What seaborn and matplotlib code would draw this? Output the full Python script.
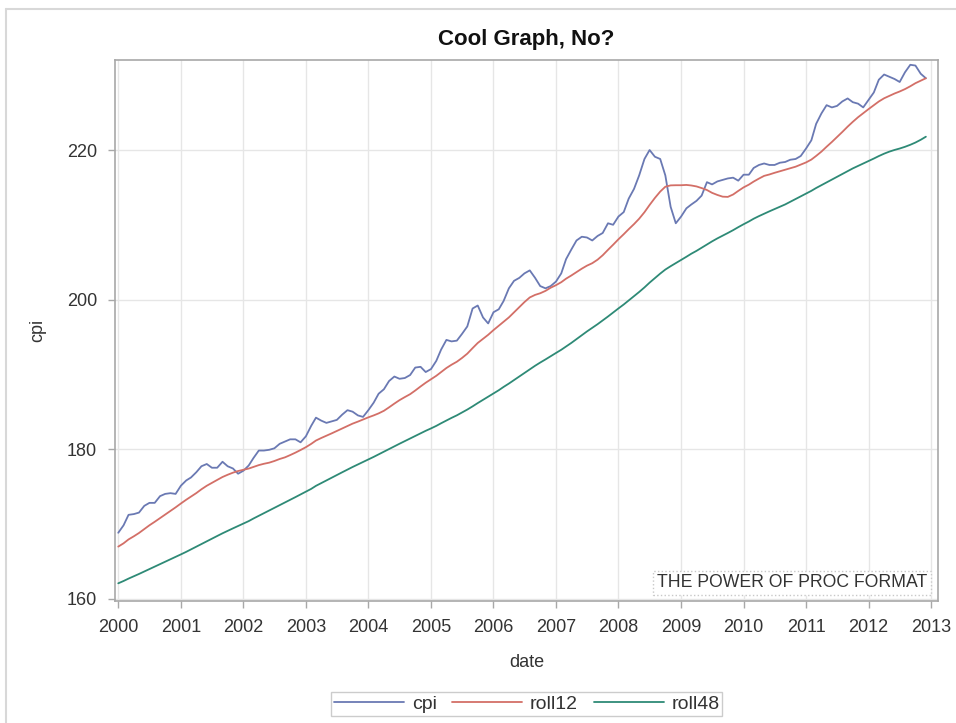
import pandas as pd
import matplotlib.pyplot as plt
import matplotlib.dates as mdates
from matplotlib.lines import Line2D
import seaborn as sns

# monthly values, Jan 2000 - Dec 2012
cpi = [
    168.8, 169.8, 171.2, 171.3, 171.5, 172.4, 172.8, 172.8, 173.7, 174.0, 174.1, 174.0,
    175.1, 175.8, 176.2, 176.9, 177.7, 178.0, 177.5, 177.5, 178.3, 177.7, 177.4, 176.7,
    177.1, 177.8, 178.8, 179.8, 179.8, 179.9, 180.1, 180.7, 181.0, 181.3, 181.3, 180.9,
    181.7, 183.1, 184.2, 183.8, 183.5, 183.7, 183.9, 184.6, 185.2, 185.0, 184.5, 184.3,
    185.2, 186.2, 187.4, 188.0, 189.1, 189.7, 189.4, 189.5, 189.9, 190.9, 191.0, 190.3,
    190.7, 191.8, 193.3, 194.6, 194.4, 194.5, 195.4, 196.4, 198.8, 199.2, 197.6, 196.8,
    198.3, 198.7, 199.8, 201.5, 202.5, 202.9, 203.5, 203.9, 202.9, 201.8, 201.5, 201.8,
    202.4, 203.5, 205.4, 206.7, 207.9, 208.4, 208.3, 207.9, 208.5, 208.9, 210.2, 210.0,
    211.1, 211.7, 213.5, 214.8, 216.6, 218.8, 220.0, 219.1, 218.8, 216.6, 212.4, 210.2,
    211.1, 212.2, 212.7, 213.2, 213.9, 215.7, 215.4, 215.8, 216.0, 216.2, 216.3, 215.9,
    216.7, 216.7, 217.6, 218.0, 218.2, 218.0, 218.0, 218.3, 218.4, 218.7, 218.8, 219.2,
    220.2, 221.3, 223.5, 224.9, 226.0, 225.7, 225.9, 226.5, 226.9, 226.4, 226.2, 225.7,
    226.7, 227.7, 229.4, 230.1, 229.8, 229.5, 229.1, 230.4, 231.4, 231.3, 230.2, 229.6,
]
roll12 = [
    166.95, 167.39, 167.91, 168.33, 168.77, 169.29, 169.80, 170.27, 170.76, 171.24, 171.72, 172.20,
    172.72, 173.22, 173.64, 174.11, 174.62, 175.09, 175.48, 175.87, 176.26, 176.56, 176.84, 177.06,
    177.23, 177.39, 177.61, 177.85, 178.03, 178.18, 178.40, 178.67, 178.89, 179.19, 179.52, 179.87,
    180.25, 180.69, 181.14, 181.48, 181.78, 182.10, 182.42, 182.74, 183.09, 183.40, 183.67, 183.95,
    184.24, 184.50, 184.77, 185.12, 185.58, 186.08, 186.54, 186.95, 187.34, 187.83, 188.37, 188.87,
    189.33, 189.80, 190.29, 190.84, 191.28, 191.68, 192.18, 192.76, 193.50, 194.19, 194.74, 195.28,
    195.91, 196.49, 197.03, 197.61, 198.28, 198.98, 199.66, 200.28, 200.62, 200.84, 201.16, 201.58,
    201.92, 202.32, 202.79, 203.22, 203.67, 204.13, 204.53, 204.86, 205.33, 205.92, 206.65, 207.33,
    208.06, 208.74, 209.41, 210.09, 210.81, 211.68, 212.65, 213.59, 214.44, 215.09, 215.27, 215.29,
    215.29, 215.33, 215.26, 215.13, 214.91, 214.65, 214.27, 213.99, 213.76, 213.73, 214.05, 214.53,
    215.00, 215.37, 215.78, 216.18, 216.54, 216.73, 216.95, 217.16, 217.36, 217.56, 217.77, 218.05,
    218.34, 218.72, 219.21, 219.79, 220.44, 221.08, 221.74, 222.42, 223.13, 223.77, 224.39, 224.93,
    225.47, 226.00, 226.49, 226.92, 227.24, 227.56, 227.83, 228.15, 228.53, 228.94, 229.27, 229.60,
]
roll48 = [
    162.04, 162.35, 162.67, 162.98, 163.29, 163.62, 163.95, 164.27, 164.61, 164.93, 165.25, 165.58,
    165.91, 166.25, 166.58, 166.93, 167.30, 167.67, 168.02, 168.37, 168.73, 169.06, 169.39, 169.71,
    170.03, 170.36, 170.71, 171.07, 171.42, 171.78, 172.13, 172.49, 172.85, 173.21, 173.57, 173.93,
    174.29, 174.67, 175.08, 175.44, 175.80, 176.17, 176.53, 176.89, 177.25, 177.60, 177.94, 178.27,
    178.61, 178.95, 179.29, 179.64, 180.00, 180.36, 180.71, 181.06, 181.40, 181.75, 182.10, 182.44,
    182.76, 183.10, 183.45, 183.82, 184.17, 184.51, 184.89, 185.28, 185.71, 186.15, 186.58, 186.99,
    187.43, 187.87, 188.31, 188.76, 189.23, 189.71, 190.20, 190.68, 191.14, 191.57, 191.99, 192.42,
    192.85, 193.28, 193.72, 194.20, 194.70, 195.22, 195.73, 196.21, 196.70, 197.20, 197.73, 198.27,
    198.81, 199.34, 199.88, 200.44, 201.01, 201.62, 202.26, 202.87, 203.47, 204.01, 204.46, 204.87,
    205.30, 205.72, 206.12, 206.51, 206.92, 207.36, 207.78, 208.18, 208.54, 208.90, 209.28, 209.68,
    210.07, 210.44, 210.81, 211.16, 211.48, 211.80, 212.10, 212.40, 212.72, 213.08, 213.44, 213.80,
    214.17, 214.54, 214.92, 215.30, 215.68, 216.04, 216.40, 216.79, 217.17, 217.54, 217.87, 218.20,
    218.53, 218.86, 219.19, 219.51, 219.78, 220.01, 220.20, 220.43, 220.70, 221.00, 221.37, 221.78,
]
dates = pd.date_range('2000-01-01', periods=len(cpi), freq='MS')
series_colors = {'cpi': '#6a79b3', 'roll12': '#d36f67', 'roll48': '#2e8a76'}

df = pd.DataFrame({'date': dates, 'cpi': cpi, 'roll12': roll12, 'roll48': roll48})
long_df = df.melt(id_vars='date', var_name='series', value_name='value')

sns.set_style('whitegrid')
plt.rcParams['font.family'] = ['Liberation Sans', 'DejaVu Sans']

fig = plt.figure(figsize=(9.56, 7.23), dpi=100)
ax = fig.add_axes([0.1203, 0.1687, 0.8609, 0.7483])

sns.lineplot(data=long_df, x='date', y='value', hue='series', palette=series_colors,
             linewidth=1.3, ax=ax, legend=False)

ax.set_xlim(pd.Timestamp('1999-12-13'), pd.Timestamp('2013-02-10'))
ax.set_ylim(159.67, 232.04)
ax.set_yticks([160, 180, 200, 220])
ax.xaxis.set_major_locator(mdates.YearLocator())
ax.xaxis.set_major_formatter(mdates.DateFormatter('%Y'))

ax.grid(True, color='#e6e6e6', linewidth=1.0)
for s in ax.spines.values():
    s.set_color('#a8a8a8')
    s.set_linewidth(1.2)
ax.tick_params(axis='both', which='major', length=5, width=1, color='#a8a8a8',
               labelsize=13, labelcolor='#333333', pad=8, bottom=True, left=True)

ax.set_title('Cool Graph, No?', fontsize=16, fontweight='bold', color='#111111', pad=11)
ax.set_xlabel('date', fontsize=13, color='#333333', labelpad=13)
ax.set_ylabel('cpi', fontsize=13, color='#333333', labelpad=15)

ax.text(0.9866, 0.018, 'THE POWER OF PROC FORMAT', transform=ax.transAxes,
        ha='right', va='bottom', fontsize=12.7, color='#333333',
        bbox=dict(boxstyle='square,pad=0.2', facecolor='white', edgecolor='#c8c8c8',
                  linestyle=':', linewidth=1))

# legend sits centred under the plot area
handles = [Line2D([0], [0], color=c, linewidth=1.3) for c in series_colors.values()]
fig.legend(handles, list(series_colors.keys()), loc='center', ncol=3,
           bbox_to_anchor=(0.551, 0.026), fontsize=14, frameon=True, fancybox=False,
           edgecolor='#c0c0c0', handlelength=3.6, columnspacing=0.8, handletextpad=0.4,
           borderpad=0.15, labelcolor='#333333')

# light outer frame, left and top
fig.add_artist(Line2D([0.0063, 0.0063], [0.0, 0.9876], color='#d8d8d8', linewidth=1.5,
                      transform=fig.transFigure))
fig.add_artist(Line2D([0.0063, 1.0], [0.9876, 0.9876], color='#d8d8d8', linewidth=1.5,
                      transform=fig.transFigure))

fig.savefig('out.png', dpi=100)
